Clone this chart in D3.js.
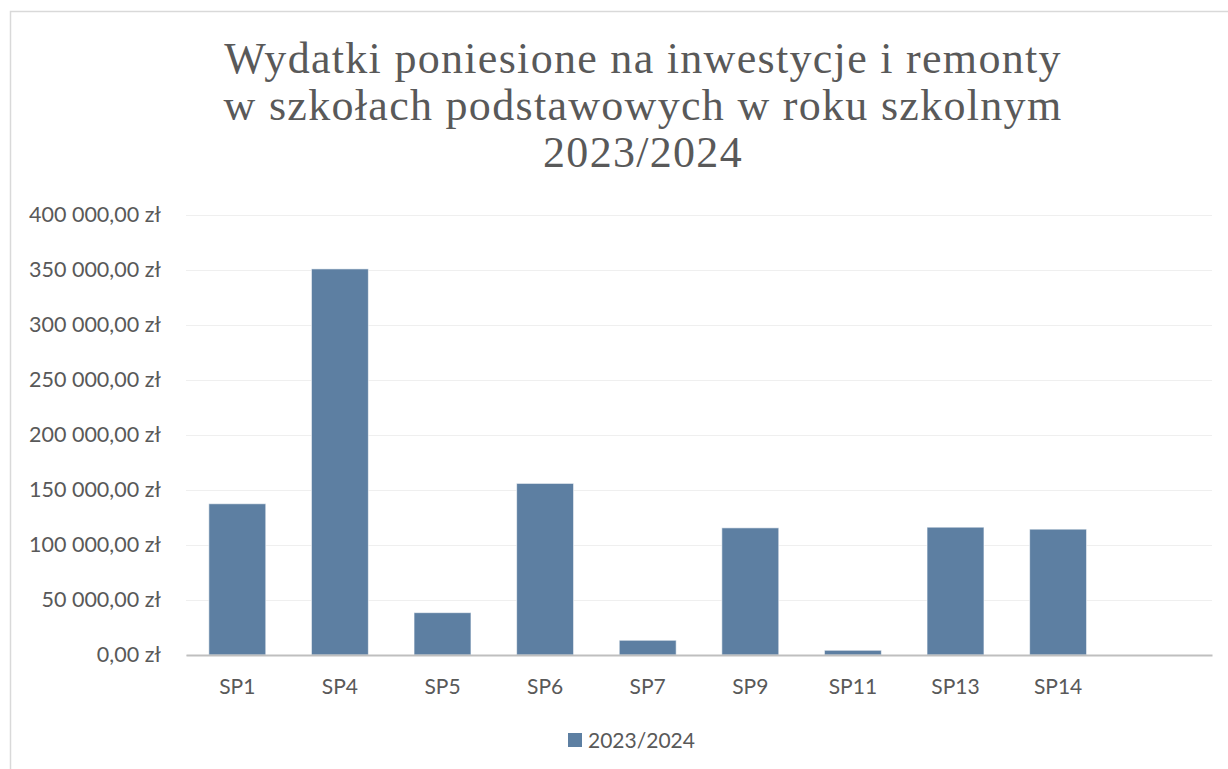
<!DOCTYPE html>
<html>
<head>
<meta charset="utf-8">
<script src="https://cdn.jsdelivr.net/npm/d3@7"></script>
<style>
  body { margin: 0; background: #fff; }
  svg { display: block; }
</style>
</head>
<body>
<div id="chart"></div>
<script>
// data
var titleLines = ["Wydatki poniesione na inwestycje i remonty",
                  "w szkołach podstawowych w roku szkolnym",
                  "2023/2024"];
var categories = ["SP1", "SP4", "SP5", "SP6", "SP7", "SP9", "SP11", "SP13", "SP14", ""];
var values = [137500, 351000, 38500, 156000, 13400, 115600, 4300, 116200, 114400, null];
var yTicks = [0, 50000, 100000, 150000, 200000, 250000, 300000, 350000, 400000];
var seriesName = "2023/2024";

var W = 1228, H = 769;
var margin = {top: 215, right: 16, bottom: 114, left: 186};
var color = "#5d7fa2";
var textCol = "#595959";
var labelFont = "Lato, sans-serif";

var svg = d3.select("#chart").append("svg")
    .attr("width", W).attr("height", H);

// chart area frame
svg.append("rect")
    .attr("x", 10.5).attr("y", 11.5)
    .attr("width", W + 40).attr("height", H + 40)
    .attr("fill", "#fff").attr("stroke", "#d9d9d9").attr("stroke-width", 1.5);

// title
svg.append("text")
    .attr("x", 643).attr("y", 73)
    .attr("text-anchor", "middle")
    .attr("font-family", "'Liberation Serif', serif")
    .attr("font-size", 44)
    .attr("letter-spacing", 1.3)
    .attr("fill", textCol)
    .selectAll("tspan").data(titleLines).join("tspan")
      .attr("x", 643)
      .attr("dy", function(d, i){ return i === 0 ? 0 : 47; })
      .text(function(d){ return d; });

var x = d3.scaleBand()
    .domain(categories)
    .range([margin.left, W - margin.right])
    .paddingInner(0.445)
    .paddingOuter(0.2225);

var y = d3.scaleLinear()
    .domain([0, 400000])
    .range([H - margin.bottom, margin.top]);

var fmt = function(v){
  var s = d3.format(",.2f")(v);
  return s.replace(/,/g, " ").replace(".", ",") + " zł";
};

// gridlines
var grid = svg.append("g")
    .attr("transform", "translate(" + margin.left + ",0)")
    .call(d3.axisLeft(y).tickValues(yTicks).tickSize(-(W - margin.right - margin.left)).tickFormat(""));
grid.select(".domain").remove();
grid.selectAll("line").attr("stroke", "#efefef").attr("stroke-width", 1.2);

// y labels
var yAxis = svg.append("g")
    .attr("transform", "translate(" + (margin.left - 22) + ",0)")
    .call(d3.axisLeft(y).tickValues(yTicks).tickSize(0).tickFormat(fmt));
yAxis.select(".domain").remove();
yAxis.selectAll("text")
    .attr("font-family", labelFont)
    .attr("font-size", 21.5)
    .attr("fill", textCol);

// bars
svg.append("g").selectAll("rect")
    .data(categories.map(function(c, i){ return {cat: c, v: values[i]}; })
                    .filter(function(d){ return d.v != null; }))
    .join("rect")
      .attr("x", function(d){ return x(d.cat); })
      .attr("y", function(d){ return y(d.v); })
      .attr("width", x.bandwidth())
      .attr("height", function(d){ return y(0) - y(d.v); })
      .attr("fill", color)
      .attr("stroke", "rgba(255,255,255,0.6)")
      .attr("stroke-width", 1);

// x axis
var xAxis = svg.append("g")
    .attr("transform", "translate(0," + y(0) + ")")
    .call(d3.axisBottom(x).tickSize(0).tickPadding(24));
xAxis.select(".domain").attr("stroke", "#bfbfbf").attr("stroke-width", 2.2);
xAxis.selectAll("text")
    .attr("font-family", labelFont)
    .attr("font-size", 21)
    .attr("fill", textCol);

// legend
var lg = svg.append("g").attr("transform", "translate(568,733)");
lg.append("rect").attr("width", 14).attr("height", 14).attr("fill", color);
lg.append("text").attr("x", 20).attr("y", 14.5)
    .attr("font-family", labelFont)
    .attr("font-size", 21)
    .attr("fill", textCol)
    .text(seriesName);
</script>
</body>
</html>
